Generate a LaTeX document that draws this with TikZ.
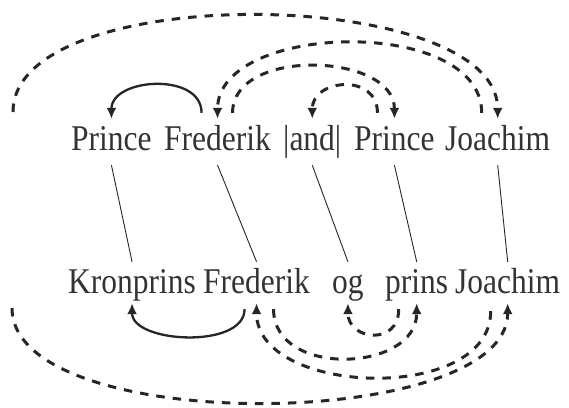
\documentclass[tikz,border=0pt]{standalone}
\usepackage{fontspec}
\usepackage{graphicx}
\setmainfont{Liberation Serif}
\usetikzlibrary{arrows.meta}
\newcommand\tallword[1]{\scalebox{1}[1.15]{#1}}
\tikzset{word/.style={inner xsep=0pt,inner ysep=4pt,text height=27pt,text depth=11pt,anchor=base west,text=black!80,font=\fontsize{31.5pt}{38pt}\selectfont},
         low word/.style={word,text depth=6pt},
         align edge/.style={black!85,line width=0.9pt},
         arc/.style={black!85,line width=2.3pt,->},
         dash arc/.style={arc,line width=3pt,dash pattern=on 8.5pt off 8pt},
}
\begin{document}
\begin{tikzpicture}[x=1pt,y=-1pt,>={Latex[length=11pt,width=10pt]}]
\useasboundingbox (0,0) rectangle (569,407);
% \draw[help lines,step=50] (0,0) grid (569,407);
% English sentence
\node[word] (p1) at (71,150) {\tallword{Prince}};
\node[word] (f1) at (164,150) {\tallword{Frederik}};
\node[word] (and) at (283,150) {\tallword{|and|}};
\node[word] (p2) at (354,150) {\tallword{Prince}};
\node[word] (j1) at (445,150) {\tallword{Joachim}};
% Danish sentence
\node[low word] (k2) at (68,293) {\tallword{Kronprins}};
\node[low word] (f2) at (203,293) {\tallword{Frederik}};
\node[low word] (og) at (332,293) {\tallword{og}};
\node[low word] (pr) at (385,293) {\tallword{prins}};
\node[low word] (j2) at (455,293) {\tallword{Joachim}};
\coordinate (top end) at (13,112);
\coordinate (low end) at (12,308);
% alignment
\draw[align edge] (p1.south) -- (k2.north);
\draw[align edge] (f1.south) -- (f2.north);
\draw[align edge] (and.south) -- (og.north);
\draw[align edge] (p2.south) -- (pr.north);
\draw[align edge] (j1.south) -- (j2.north);
% arcs above
\draw[arc] ([shift={(-16,-6)}]f1.north) .. controls +(0,-41) and +(0,-41) .. (p1.north);
\draw[dash arc] ([shift={(-16,-6)}]j1.north) .. controls +(0,-97) and +(0,-97) .. (f1.north);
\draw[dash arc] ([shift={(15,-6)}]f1.north) .. controls +(0,-66) and +(0,-66) .. (p2.north);
\draw[dash arc] ([shift={(-17,-6)}]p2.north) .. controls +(0,-40) and +(0,-40) .. (and.north);
\draw[dash arc] (top end) .. controls +(0,-133) and +(0,-133) .. (j1.north);
% arcs below
\draw[arc] ([shift={(-12,6)}]f2.south) .. controls +(0,40) and +(0,40) .. (k2.south);
\draw[dash arc] ([shift={(-17,8)}]j2.south) .. controls +(0,93) and +(0,93) .. (f2.south);
\draw[dash arc] ([shift={(17,6)}]f2.south) .. controls +(0,69) and +(0,69) .. (pr.south);
\draw[dash arc] ([shift={(-18,6)}]pr.south) .. controls +(0,37) and +(0,37) .. (og.south);
\draw[dash arc] (low end) .. controls +(0,129) and +(0,129) .. (j2.south);
\end{tikzpicture}
\end{document}
